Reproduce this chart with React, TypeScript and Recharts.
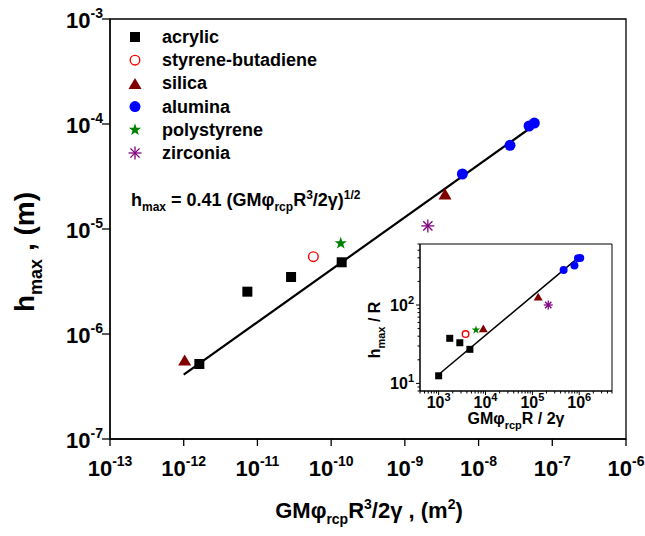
import React from 'react';
import { ScatterChart, Scatter, XAxis, YAxis, CartesianGrid, Legend, ReferenceArea } from 'recharts';

const FONT = '"Liberation Sans", Arial, Helvetica, sans-serif';

// main plot: h_max (m) against GM phi_rcp R^3 / 2 gamma (m^2)
const acrylicX = [1.63e-12, 7.3e-12, 2.86e-11, 1.39e-10];
const acrylicY = [5.18e-7, 2.53e-6, 3.49e-6, 4.82e-6];
const sbX = [5.74e-11];
const sbY = [5.45e-6];
const silicaX = [1.03e-12, 3.51e-9];
const silicaY = [5.65e-7, 2.16e-5];
const aluminaX = [6.03e-9, 2.67e-8, 4.84e-8, 5.71e-8];
const aluminaY = [3.34e-5, 6.27e-5, 9.57e-5, 1.02e-4];
const psX = [1.35e-10];
const psY = [7.31e-6];
const zirconiaX = [2.05e-9];
const zirconiaY = [1.07e-5];
const fitX = [1e-12, 6e-8];
const fitY = [4.1e-7, 1.0e-4];

const mainXTicks = [1e-13, 1e-12, 1e-11, 1e-10, 1e-9, 1e-8, 1e-7, 1e-6];
const mainYTicks = [1e-7, 1e-6, 1e-5, 1e-4, 1e-3];

// inset: h_max / R against GM phi_rcp R / 2 gamma
const inAcrylicX = [1000, 1725, 2830, 4640];
const inAcrylicY = [12.5, 37.6, 33, 27.2];
const inSbX = [3750];
const inSbY = [42.6];
const inSilicaX = [8970, 1.33e5];
const inSilicaY = [50.4, 128];
const inAluminaX = [4.64e5, 7.89e5, 9.42e5, 1.05e6];
const inAluminaY = [280, 318, 395, 398];
const inPsX = [6250];
const inPsY = [48];
const inZirconiaX = [2.18e5];
const inZirconiaY = [100];
const inFitX = [1000, 9e5];
const inFitY = [13, 390];

const inXTicks = [400, 500, 600, 700, 800, 900, 1e3, 2e3, 3e3, 4e3, 5e3, 6e3, 7e3, 8e3, 9e3, 1e4, 2e4, 3e4, 4e4, 5e4, 6e4, 7e4, 8e4, 9e4, 1e5, 2e5, 3e5, 4e5, 5e5, 6e5, 7e5, 8e5, 9e5, 1e6, 2e6, 3e6, 4e6, 5e6];
const inYTicks = [8, 9, 10, 20, 30, 40, 50, 60, 70, 80, 90, 100, 200, 300, 400, 500, 600];

type Pt = { x: number; y: number };
const zip = (xs: number[], ys: number[]): Pt[] => xs.map((x, i) => ({ x, y: ys[i] }));

const series = [
  { name: 'acrylic', kind: 'square', main: zip(acrylicX, acrylicY), inset: zip(inAcrylicX, inAcrylicY) },
  { name: 'styrene-butadiene', kind: 'ring', main: zip(sbX, sbY), inset: zip(inSbX, inSbY) },
  { name: 'silica', kind: 'triangle', main: zip(silicaX, silicaY), inset: zip(inSilicaX, inSilicaY) },
  { name: 'alumina', kind: 'disc', main: zip(aluminaX, aluminaY), inset: zip(inAluminaX, inAluminaY) },
  { name: 'polystyrene', kind: 'star', main: zip(psX, psY), inset: zip(inPsX, inPsY) },
  { name: 'zirconia', kind: 'asterisk', main: zip(zirconiaX, zirconiaY), inset: zip(inZirconiaX, inZirconiaY) },
];

const Marker = ({ kind, cx, cy, s }: { kind: string; cx: number; cy: number; s: number }) => {
  switch (kind) {
    case 'square':
      return <rect x={cx - s / 2} y={cy - s / 2} width={s} height={s} fill="#000" />;
    case 'ring':
      return <circle cx={cx} cy={cy} r={s / 2 - 0.7} fill="none" stroke="#ff0000" strokeWidth={1.4} />;
    case 'triangle': {
      const h = s * 0.85;
      return (
        <polygon
          points={`${cx},${cy - h / 2} ${cx - s / 2},${cy + h / 2} ${cx + s / 2},${cy + h / 2}`}
          fill="#800000"
        />
      );
    }
    case 'disc':
      return <circle cx={cx} cy={cy} r={s / 2} fill="#0000ff" />;
    case 'star': {
      const pts: string[] = [];
      for (let i = 0; i < 10; i++) {
        const r = i % 2 === 0 ? s / 2 : s * 0.2;
        const a = -Math.PI / 2 + (i * Math.PI) / 5;
        pts.push(`${cx + r * Math.cos(a)},${cy + r * Math.sin(a)}`);
      }
      return <polygon points={pts.join(' ')} fill="#008000" />;
    }
    case 'asterisk': {
      const r = s / 2;
      const d = r * 0.707;
      return (
        <g stroke="#800080" strokeWidth={1.3}>
          <line x1={cx} y1={cy - r} x2={cx} y2={cy + r} />
          <line x1={cx - r} y1={cy} x2={cx + r} y2={cy} />
          <line x1={cx - d} y1={cy - d} x2={cx + d} y2={cy + d} />
          <line x1={cx - d} y1={cy + d} x2={cx + d} y2={cy - d} />
        </g>
      );
    }
    default:
      return null;
  }
};

const mainSize: Record<string, number> = { square: 10, ring: 11, triangle: 13, disc: 11, star: 13, asterisk: 13 };
const inSize: Record<string, number> = { square: 7, ring: 8, triangle: 9, disc: 8, star: 9, asterisk: 9 };

const isMajor = (v: number) => Math.abs(Math.log10(v) - Math.round(Math.log10(v))) < 1e-6;

const MainXTick = (props: any) => {
  const { x, y, payload } = props;
  const e = Math.round(Math.log10(payload.value));
  return (
    <g>
      <line x1={x} y1={y} x2={x} y2={y + 7} stroke="#000" strokeWidth={1.3} />
      <text x={x} y={y + 37} textAnchor="middle" fontFamily={FONT} fontWeight="bold" fontSize={22} fill="#000">
        10<tspan dy={-10} fontSize={14}>{e}</tspan>
      </text>
    </g>
  );
};

const MainYTick = (props: any) => {
  const { x, y, payload } = props;
  const e = Math.round(Math.log10(payload.value));
  return (
    <g>
      <line x1={x - 8} y1={y} x2={x} y2={y} stroke="#000" strokeWidth={1.3} />
      <text x={x - 7} y={y + 9} textAnchor="end" fontFamily={FONT} fontWeight="bold" fontSize={22} fill="#000">
        10<tspan dy={-10} fontSize={14}>{e}</tspan>
      </text>
    </g>
  );
};

const InXTick = (props: any) => {
  const { x, y, payload } = props;
  const major = isMajor(payload.value);
  const e = Math.round(Math.log10(payload.value));
  return (
    <g>
      <line x1={x} y1={y} x2={x} y2={y + (major ? 4 : 2.5)} stroke="#000" strokeWidth={1} />
      {major && (
        <text x={x} y={y + 17} textAnchor="middle" fontFamily={FONT} fontWeight="bold" fontSize={16} fill="#000">
          10<tspan dy={-7} fontSize={11}>{e}</tspan>
        </text>
      )}
    </g>
  );
};

const InYTick = (props: any) => {
  const { x, y, payload } = props;
  const major = isMajor(payload.value);
  const e = Math.round(Math.log10(payload.value));
  return (
    <g>
      <line x1={x - (major ? 4 : 2.5)} y1={y} x2={x} y2={y} stroke="#000" strokeWidth={1} />
      {major && (
        <text x={x - 6} y={y + 6} textAnchor="end" fontFamily={FONT} fontWeight="bold" fontSize={16} fill="#000">
          10<tspan dy={-7} fontSize={11}>{e}</tspan>
        </text>
      )}
    </g>
  );
};

const LegendBox = () => (
  <svg width={230} height={150} style={{ display: 'block' }}>
    {series.map((s, i) => {
      const cy = 12 + i * 23.2;
      return (
        <g key={s.name}>
          <Marker kind={s.kind} cx={15} cy={cy} s={mainSize[s.kind]} />
          <text x={42} y={cy + 6} fontFamily={FONT} fontWeight="bold" fontSize={18} fill="#000">
            {s.name}
          </text>
        </g>
      );
    })}
  </svg>
);

const noDot = () => <g />;

export default function App() {
  const frame = { stroke: '#000', strokeWidth: 1.3 };
  const inFrame = { stroke: '#000', strokeWidth: 1 };
  return (
    <div style={{ position: 'absolute', left: 0, top: 0, width: 645, height: 536, background: '#fff' }}>
      <ScatterChart width={645} height={536} margin={{ top: 19, right: 19, bottom: 0, left: 0 }}>
        <XAxis dataKey="x" type="number" scale="log" domain={[1e-13, 1e-6]} allowDataOverflow ticks={mainXTicks} interval={0} height={97} tickSize={0} tickMargin={0} tickLine={false} axisLine={frame} tick={<MainXTick />} />
        <YAxis dataKey="y" type="number" scale="log" domain={[1e-7, 1e-3]} allowDataOverflow ticks={mainYTicks} interval={0} width={110} tickSize={0} tickMargin={0} tickLine={false} axisLine={frame} tick={<MainYTick />} />
        <ReferenceArea x1={1e-13} x2={1e-6} y1={1e-7} y2={1e-3} fill="none" stroke="#000" strokeWidth={1.3} ifOverflow="visible" />
        <Legend layout="vertical" align="center" verticalAlign="middle" wrapperStyle={{ left: 120, top: 25, width: 230 }} content={() => <LegendBox />} />
        <Scatter name="fit" data={zip(fitX, fitY)} line={{ stroke: '#000', strokeWidth: 2.2 }} shape={noDot} legendType="none" isAnimationActive={false} />
        {series.map((s) => (
          <Scatter
            key={s.name}
            name={s.name}
            data={s.main}
            isAnimationActive={false}
            shape={(p: any) => <Marker kind={s.kind} cx={p.cx} cy={p.cy} s={mainSize[s.kind]} />}
          />
        ))}
      </ScatterChart>

      <div style={{ position: 'absolute', left: 360, top: 230 }}>
        <ScatterChart width={260} height={200} margin={{ top: 14, right: 8, bottom: 0, left: 0 }}>
          <CartesianGrid horizontal={false} vertical={false} fill="#fff" fillOpacity={1} />
          <XAxis dataKey="x" type="number" scale="log" domain={[400, 5e6]} allowDataOverflow ticks={inXTicks} interval={0} height={39} tickSize={0} tickMargin={0} tickLine={false} axisLine={inFrame} tick={<InXTick />} />
          <YAxis dataKey="y" type="number" scale="log" domain={[8, 600]} allowDataOverflow ticks={inYTicks} interval={0} width={60} tickSize={0} tickMargin={0} tickLine={false} axisLine={inFrame} tick={<InYTick />} />
          <ReferenceArea x1={400} x2={5e6} y1={8} y2={600} fill="none" stroke="#000" strokeWidth={1} ifOverflow="visible" />
          <Scatter name="fit" data={zip(inFitX, inFitY)} line={{ stroke: '#000', strokeWidth: 1.5 }} shape={noDot} legendType="none" isAnimationActive={false} />
          {series.map((s) => (
            <Scatter
              key={s.name}
              name={s.name}
              data={s.inset}
              isAnimationActive={false}
              shape={(p: any) => <Marker kind={s.kind} cx={p.cx} cy={p.cy} s={inSize[s.kind]} />}
            />
          ))}
        </ScatterChart>
      </div>

      <svg width={645} height={536} style={{ position: 'absolute', left: 0, top: 0, pointerEvents: 'none' }} fontFamily={FONT} fontWeight="bold" fill="#000">
        <text transform="translate(34,252) rotate(-90)" textAnchor="middle" fontSize={28}>
          h<tspan dy={8} fontSize={18}>max</tspan>
          <tspan dy={-8}> , (m)</tspan>
        </text>
        <text x={369} y={518} textAnchor="middle" fontSize={22}>
          GMφ<tspan dy={6} fontSize={14}>rcp</tspan>
          <tspan dy={-6}>R</tspan>
          <tspan dy={-9} fontSize={14}>3</tspan>
          <tspan dy={9}>/2γ , (m</tspan>
          <tspan dy={-9} fontSize={14}>2</tspan>
          <tspan dy={9}>)</tspan>
        </text>
        <text x={131} y={206} fontSize={18}>
          h<tspan dy={5} fontSize={12}>max</tspan>
          <tspan dy={-5}> = 0.41 (GMφ</tspan>
          <tspan dy={5} fontSize={12}>rcp</tspan>
          <tspan dy={-5}>R</tspan>
          <tspan dy={-7} fontSize={12}>3</tspan>
          <tspan dy={7}>/2γ)</tspan>
          <tspan dy={-7} fontSize={12}>1/2</tspan>
        </text>
        <text transform="translate(380,330) rotate(-90)" textAnchor="middle" fontSize={16}>
          h<tspan dy={5} fontSize={11}>max</tspan>
          <tspan dy={-5}> / R</tspan>
        </text>
        <text x={516} y={424} textAnchor="middle" fontSize={16}>
          GMφ<tspan dy={5} fontSize={11}>rcp</tspan>
          <tspan dy={-5}>R / 2γ</tspan>
        </text>
      </svg>
    </div>
  );
}
